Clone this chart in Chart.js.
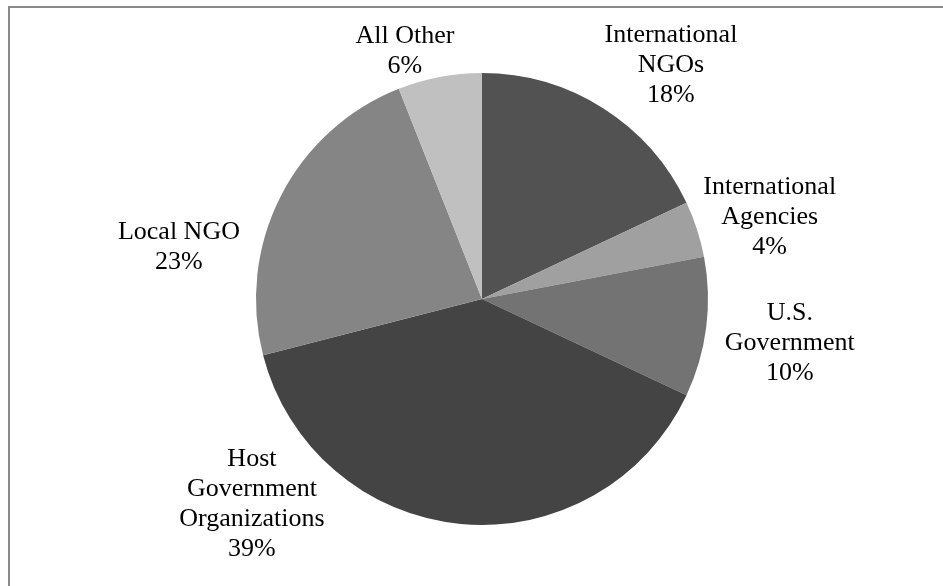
<!DOCTYPE html>
<html>
<head>
<meta charset="utf-8">
<script src="https://cdn.jsdelivr.net/npm/chart.js@4"></script>
<style>
    html, body { margin: 0; padding: 0; background: #fff; }
    canvas { display: block; }
</style>
</head>
<body>
<canvas id="fundingChart" width="943" height="586"></canvas>
<script>
const categories = [
    ['International', 'NGOs'],
    ['International', 'Agencies'],
    ['U.S.', 'Government'],
    ['Host', 'Government', 'Organizations'],
    ['Local NGO'],
    ['All Other']
];
const shares = [18, 4, 10, 39, 23, 6];
const sliceColors = ['#525252', '#a0a0a0', '#737373', '#444444', '#858585', '#c0c0c0'];

// label centres, in units of the pie radius from the pie centre
const labelAnchors = [
    [0.836, -1.035],
    [1.273, -0.363],
    [1.362, 0.195],
    [-1.018, 0.907],
    [-1.341, -0.230],
    [-0.341, -1.095]
];

// open frame: only the top and left rules are inside the picture
const framePlugin = {
    id: 'frame',
    beforeDraw(chart) {
        const ctx = chart.ctx;
        ctx.save();
        ctx.fillStyle = '#8a8a8a';
        ctx.fillRect(8, 6, chart.width - 8, 2);
        ctx.fillRect(8, 6, 2, chart.height - 6);
        ctx.restore();
    }
};

// category name with its share, stacked and centred
const sliceLabels = {
    id: 'sliceLabels',
    afterDatasetsDraw(chart) {
        const ctx = chart.ctx;
        const meta = chart.getDatasetMeta(0);
        const values = chart.data.datasets[0].data;
        const total = values.reduce((a, b) => a + b, 0);
        const lineHeight = 30;
        ctx.save();
        ctx.font = '26px "Liberation Serif", "Times New Roman", serif';
        ctx.fillStyle = '#000';
        ctx.textAlign = 'center';
        ctx.textBaseline = 'middle';
        meta.data.forEach((arc, i) => {
            const r = arc.outerRadius;
            const cx = arc.x + labelAnchors[i][0] * r;
            const cy = arc.y + labelAnchors[i][1] * r;
            const lines = categories[i].concat(Math.round(values[i] / total * 100) + '%');
            const top = cy - (lines.length - 1) * lineHeight / 2;
            lines.forEach((line, k) => ctx.fillText(line, cx, top + k * lineHeight));
        });
        ctx.restore();
    }
};

new Chart(document.getElementById('fundingChart').getContext('2d'), {
    type: 'pie',
    data: {
        labels: categories.map(c => c.join(' ')),
        datasets: [{
            data: shares,
            backgroundColor: sliceColors,
            borderWidth: 0
        }]
    },
    options: {
        responsive: false,
        animation: false,
        layout: {
            padding: { top: 73, bottom: 61, left: 21, right: 0 }
        },
        plugins: {
            legend: { display: false },
            tooltip: { enabled: false }
        }
    },
    plugins: [framePlugin, sliceLabels]
});
</script>
</body>
</html>
